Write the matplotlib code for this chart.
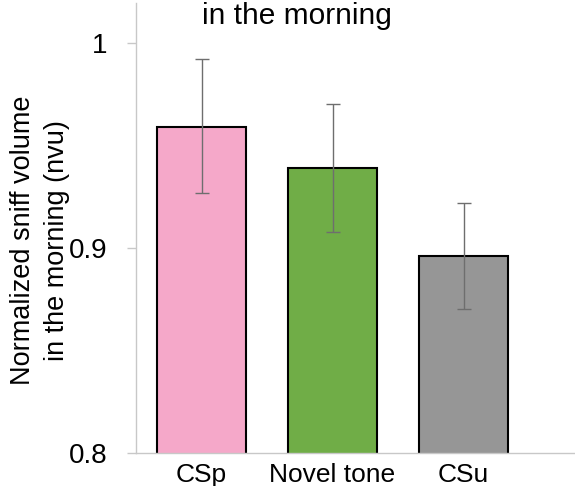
import matplotlib
matplotlib.use("Agg")
import matplotlib.pyplot as plt

plt.rcParams['font.family'] = ['Liberation Sans', 'DejaVu Sans']

categories = ['CSp', 'Novel tone', 'CSu']
means = [0.959, 0.939, 0.896]
err_low = [0.927, 0.908, 0.870]
err_high = [0.992, 0.970, 0.922]
bar_colors = ['#f5a8c9', '#70ad47', '#969696']
yticks = [0.8, 0.9, 1.0]
ytick_labels = ['0.8', '0.9', '1']

fig = plt.figure(figsize=(5.75, 4.86), dpi=100)
ax = fig.add_axes([0.2365, 0.0679, 0.7635, 0.9259])

x = list(range(len(categories)))
yerr = [[m - lo for m, lo in zip(means, err_low)],
        [hi - m for m, hi in zip(means, err_high)]]

ax.bar(x, means, width=0.68, color=bar_colors, edgecolor='black', linewidth=1.5, zorder=2)
ax.errorbar(x, means, yerr=yerr, fmt='none', ecolor='#6e6e6e', elinewidth=1.0,
            capsize=5, capthick=1.0, zorder=3)

ax.set_xlim(-0.5, 2.85)
ax.set_ylim(0.8, 1.0195)
ax.set_yticks(yticks)
ax.set_yticklabels(ytick_labels)
ax.set_xticks(x)
ax.set_xticklabels(categories)

for side in ['top', 'right']:
    ax.spines[side].set_visible(False)
for side in ['left', 'bottom']:
    ax.spines[side].set_color('#c8c8c8')
    ax.spines[side].set_linewidth(1.0)

ax.tick_params(axis='y', length=6.5, width=1.0, color='#c8c8c8', pad=14, labelsize=20)
ax.tick_params(axis='x', length=0, pad=7, labelsize=19)

# y label placed in figure coords so it stays inside the canvas
fig.text(0.069, 0.506, 'Normalized sniff volume\nin the morning (nvu)', rotation=90,
         ha='center', va='center', fontsize=19.5, linespacing=1.4)

fig.text(0.517, 0.951, 'in the morning', ha='center', va='baseline', fontsize=21.5)

fig.savefig('out.png', dpi=100)
